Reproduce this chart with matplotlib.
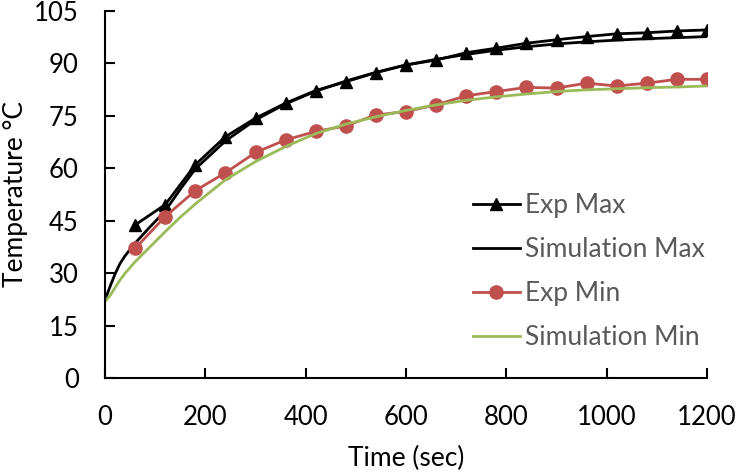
import matplotlib
matplotlib.use("Agg")
import matplotlib.pyplot as plt

plt.rcParams['font.family'] = ['Lato', 'DejaVu Sans']

# Experimental data (every 60 s)
exp_time = [60, 120, 180, 240, 300, 360, 420, 480, 540, 600,
            660, 720, 780, 840, 900, 960, 1020, 1080, 1140, 1200]
exp_max = [43.8, 49.6, 61.0, 69.0, 74.3, 78.6, 82.2, 84.7, 87.3, 89.5,
           90.9, 93.0, 94.3, 95.7, 96.7, 97.6, 98.4, 98.7, 99.2, 99.5]
exp_min = [37.1, 46.2, 53.6, 58.7, 64.5, 68.1, 70.5, 72.1, 75.2, 76.2,
           78.1, 80.7, 81.9, 83.1, 82.9, 84.3, 83.5, 84.3, 85.4, 85.4]

# Simulation data
sim_time = [0, 10, 20, 30, 40, 60, 90, 120, 150, 180, 240, 300, 360, 420,
            480, 540, 600, 660, 720, 780, 840, 900, 960, 1020, 1080, 1140, 1200]
sim_max = [22.4, 26.2, 29.8, 32.8, 35.0, 38.6, 43.3, 47.8, 54.0, 59.8, 67.8,
           73.8, 78.4, 82.0, 84.9, 87.4, 89.5, 91.1, 92.5, 93.7, 94.7, 95.5,
           96.1, 96.6, 97.0, 97.3, 97.6]
sim_min = [21.9, 23.6, 25.9, 28.1, 30.0, 33.3, 37.6, 41.9, 46.0, 49.8, 56.7,
           61.9, 66.2, 69.9, 72.6, 74.7, 76.5, 78.1, 79.4, 80.4, 81.2, 81.9,
           82.4, 82.7, 83.0, 83.2, 83.5]

RED = '#C0504D'
GREEN = '#9BBB59'

fig = plt.figure(figsize=(7.38, 4.73), dpi=100)
ax = fig.add_axes([0.1423, 0.2002, 0.958 - 0.1423, 0.9774 - 0.2002])

ax.plot(exp_time, exp_max, color='black', lw=2.0, marker='^', ms=9,
        label='Exp Max')
ax.plot(sim_time, sim_max, color='black', lw=2.0, label='Simulation Max')
ax.plot(exp_time, exp_min, color=RED, lw=2.0, marker='o', ms=9.5,
        label='Exp Min')
ax.plot(sim_time, sim_min, color=GREEN, lw=2.0, label='Simulation Min')

ax.set_xlim(0, 1200)
ax.set_ylim(0, 105)
ax.set_xticks(range(0, 1201, 200))
ax.set_yticks(range(0, 106, 15))

for s in ['top', 'right']:
    ax.spines[s].set_visible(False)
for s in ['left', 'bottom']:
    ax.spines[s].set_linewidth(1.5)
    ax.spines[s].set_color('black')

ax.tick_params(axis='both', direction='in', length=7, width=1.5,
               labelsize=18.5, pad=19, colors='black')

ax.set_xlabel('Time (sec)', fontsize=19, labelpad=12)
ax.set_ylabel('Temperature °C', fontsize=19, labelpad=4)

leg = fig.legend(*ax.get_legend_handles_labels(),
                 loc='upper left', bbox_to_anchor=(473 / 738, 1 - 193 / 473),
                 frameon=False, fontsize=19, handlelength=1.78,
                 handletextpad=0.2, labelspacing=0.72, borderpad=0.0,
                 borderaxespad=0.0)
for t in leg.get_texts():
    t.set_color('#595959')

fig.savefig('out.png', dpi=100)
